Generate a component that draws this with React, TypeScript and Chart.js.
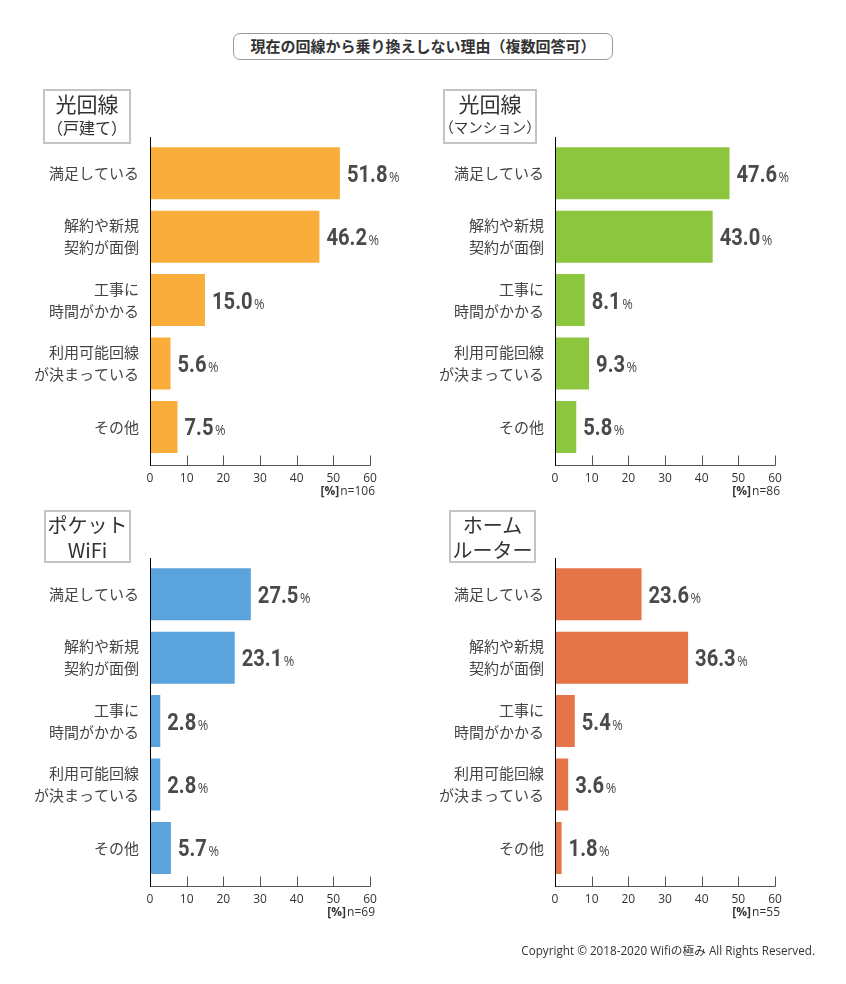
import React, { useEffect, useRef } from "react";
import { Chart, registerables } from "chart.js";

Chart.register(...registerables);

const chartTitle = "現在の回線から乗り換えしない理由（複数回答可）";
const copyrightText = "Copyright © 2018-2020 Wifiの極み All Rights Reserved.";

const categories: string[][] = [
  ["満足している"],
  ["解約や新規", "契約が面倒"],
  ["工事に", "時間がかかる"],
  ["利用可能回線", "が決まっている"],
  ["その他"],
];

const fiberHouseValues = [51.8, 46.2, 15.0, 5.6, 7.5];
const fiberMansionValues = [47.6, 43.0, 8.1, 9.3, 5.8];
const pocketWifiValues = [27.5, 23.1, 2.8, 2.8, 5.7];
const homeRouterValues = [23.6, 36.3, 5.4, 3.6, 1.8];

const xTickValues = [0, 10, 20, 30, 40, 50, 60];
const sampleSizes = [106, 86, 69, 55];
const panelColors = ["#f9ae3b", "#8cc63e", "#5ba3dc", "#e57449"];
const panelNames: string[][] = [
  ["光回線", "（戸建て）"],
  ["光回線", "（マンション）"],
  ["ポケット", "WiFi"],
  ["ホーム", "ルーター"],
];

const CJK = "'Noto Sans CJK JP', 'Noto Sans', sans-serif";
const LATIN = "'Open Sans', 'Noto Sans CJK JP', sans-serif";
const NUM = "Roboto, 'DejaVu Sans', sans-serif";

type PanelProps = {
  values: number[];
  color: string;
  n: number;
  left: number;
  top: number;
};

function Panel({ values, color, n, left, top }: PanelProps) {
  const ref = useRef<HTMLCanvasElement>(null);

  useEffect(() => {
    if (!ref.current) return;

    const axisPlugin = {
      id: "customAxis",
      afterDraw(chart: any) {
        const { ctx, chartArea } = chart;
        const xs = chart.scales.x;
        const axisY = Math.round(chartArea.bottom + 6.4) + 0.5;
        const topY = Math.round(chartArea.top - 4.6);
        ctx.save();
        ctx.lineWidth = 1;
        ctx.strokeStyle = "#555";
        ctx.beginPath();
        ctx.moveTo(chartArea.left, axisY);
        ctx.lineTo(chartArea.right + 0.5, axisY);
        for (const v of xTickValues) {
          const px = Math.round(xs.getPixelForValue(v)) + 0.5;
          ctx.moveTo(px, axisY);
          ctx.lineTo(px, axisY - 10);
        }
        ctx.stroke();
        ctx.strokeStyle = "#000";
        ctx.beginPath();
        const lx = Math.round(chartArea.left) + 0.5;
        ctx.moveTo(lx, topY);
        ctx.lineTo(lx, axisY + 0.5);
        ctx.stroke();
        ctx.fillStyle = "#333";
        ctx.textAlign = "right";
        ctx.textBaseline = "middle";
        ctx.font = `12px ${LATIN}`;
        const nText = `n=${n}`;
        const rx = chartArea.right + 5;
        const ny = axisY + 26;
        ctx.fillText(nText, rx, ny);
        const nw = ctx.measureText(nText).width;
        ctx.font = `bold 12px ${LATIN}`;
        ctx.fillText("[%]", rx - nw - 1, ny);
        ctx.restore();
      },
    };

    const valuePlugin = {
      id: "valueLabels",
      afterDatasetsDraw(chart: any) {
        const { ctx } = chart;
        const meta = chart.getDatasetMeta(0);
        ctx.save();
        ctx.fillStyle = "#4a4a4a";
        ctx.textAlign = "left";
        ctx.textBaseline = "alphabetic";
        const sx = 0.84;
        meta.data.forEach((bar: any, i: number) => {
          const txt = values[i].toFixed(1);
          const x = bar.x + 7;
          const y = bar.y + 8.4;
          ctx.font = `bold 24px ${NUM}`;
          const w = ctx.measureText(txt).width * sx;
          ctx.save();
          ctx.translate(x, y);
          ctx.scale(sx, 1);
          ctx.fillText(txt, 0, 0);
          ctx.restore();
          ctx.font = `15px ${LATIN}`;
          ctx.save();
          ctx.translate(x + w + 1.5, y);
          ctx.scale(0.85, 1);
          ctx.fillText("%", 0, 0);
          ctx.restore();
        });
        ctx.restore();
      },
    };

    const chart = new Chart(ref.current, {
      type: "bar",
      data: {
        labels: categories,
        datasets: [
          {
            data: values,
            backgroundColor: color,
            barPercentage: 0.82,
            categoryPercentage: 1,
          },
        ],
      },
      options: {
        indexAxis: "y",
        animation: false,
        responsive: false,
        maintainAspectRatio: false,
        layout: { padding: { top: 21.6, right: 50, bottom: 21.4, left: 0 } },
        plugins: {
          legend: { display: false },
          tooltip: { enabled: false },
          title: { display: false },
        },
        scales: {
          x: {
            type: "linear",
            min: 0,
            max: 60,
            afterBuildTicks: (s: any) => {
              s.ticks = xTickValues.map((v) => ({ value: v }));
            },
            grid: { display: false },
            border: { display: false },
            ticks: {
              padding: 5,
              maxRotation: 0,
              autoSkip: false,
              color: "#333",
              font: { size: 12, family: LATIN },
            },
            afterFit: (s: any) => {
              s.height = 30;
            },
          },
          y: {
            grid: { display: false },
            border: { display: false },
            ticks: {
              padding: 3,
              color: "#444",
              autoSkip: false,
              font: { size: 15, family: CJK, lineHeight: 22 / 15 },
            },
            afterFit: (s: any) => {
              s.width = 150;
            },
          },
        },
      } as any,
      plugins: [axisPlugin, valuePlugin],
    });

    return () => chart.destroy();
  }, [values, color, n]);

  return (
    <canvas
      ref={ref}
      width={420}
      height={390}
      style={{ position: "absolute", left, top, width: 420, height: 390 }}
    />
  );
}

function NameBox({
  lines,
  left,
  top,
  width,
  height,
  sizes,
  lineHeights,
}: {
  lines: string[];
  left: number;
  top: number;
  width: number;
  height: number;
  sizes: number[];
  lineHeights: number[];
}) {
  return (
    <div
      style={{
        position: "absolute",
        left,
        top,
        width,
        height,
        boxSizing: "border-box",
        border: "2px solid #c4c4c4",
        background: "#fff",
        color: "#333",
        fontFamily: CJK,
        textAlign: "center",
      }}
    >
      {lines.map((t, i) => (
        <div
          key={i}
          style={{
            fontSize: sizes[i],
            lineHeight: `${lineHeights[i]}px`,
            height: lineHeights[i],
            whiteSpace: "nowrap",
            display: "flex",
            justifyContent: "center",
          }}
        >
          {t}
        </div>
      ))}
    </div>
  );
}

export default function App() {
  return (
    <div
      style={{
        position: "absolute",
        left: 0,
        top: 0,
        width: 846,
        height: 984,
        background: "#fff",
        overflow: "hidden",
      }}
    >
      <div
        style={{
          position: "absolute",
          left: 233,
          top: 33,
          width: 380,
          height: 27,
          boxSizing: "border-box",
          border: "1.5px solid #999",
          borderRadius: 7,
          fontFamily: CJK,
          fontWeight: "bold",
          fontSize: 15,
          lineHeight: "24px",
          textAlign: "center",
          color: "#333",
          whiteSpace: "nowrap",
        }}
      >
        {chartTitle}
      </div>

      <Panel values={fiberHouseValues} color={panelColors[0]} n={sampleSizes[0]} left={0} top={120} />
      <Panel values={fiberMansionValues} color={panelColors[1]} n={sampleSizes[1]} left={405} top={120} />
      <Panel values={pocketWifiValues} color={panelColors[2]} n={sampleSizes[2]} left={0} top={541} />
      <Panel values={homeRouterValues} color={panelColors[3]} n={sampleSizes[3]} left={405} top={541} />

      <NameBox lines={panelNames[0]} left={43} top={89} width={88} height={55} sizes={[21, 16]} lineHeights={[24, 24]} />
      <NameBox lines={panelNames[1]} left={443} top={89} width={94} height={55} sizes={[21, 14.5]} lineHeights={[24, 24]} />
      <NameBox lines={panelNames[2]} left={44} top={510} width={87} height={53} sizes={[20, 20]} lineHeights={[25, 25]} />
      <NameBox lines={panelNames[3]} left={449} top={510} width={87} height={53} sizes={[20, 20]} lineHeights={[25, 25]} />

      <div
        style={{
          position: "absolute",
          right: 846 - 815,
          top: 941,
          fontFamily: LATIN,
          fontSize: 11.7,
          lineHeight: "18px",
          color: "#333",
          whiteSpace: "nowrap",
        }}
      >
        {copyrightText}
      </div>
    </div>
  );
}
